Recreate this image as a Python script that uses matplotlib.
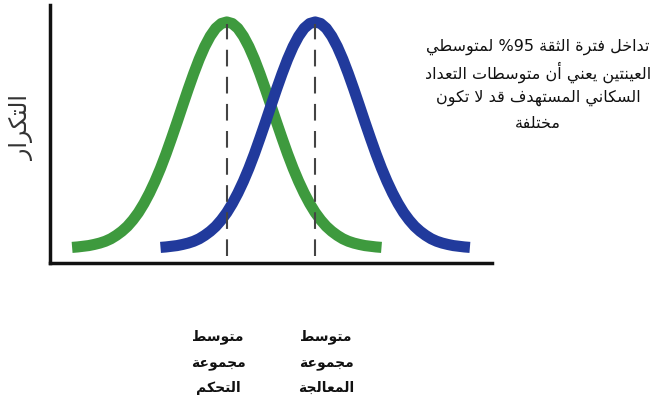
import matplotlib
matplotlib.use("Agg")
import matplotlib.pyplot as plt

# ---------------- data ----------------
# offsets (x units) around each group mean and the relative frequency
offsets = [-35, -33.75, -32.5, -31.25, -30, -28.75, -27.5, -26.25, -25, -23.75, -22.5, -21.25,
           -20, -18.75, -17.5, -16.25, -15, -13.75, -12.5, -11.25, -10, -8.75, -7.5, -6.25,
           -5, -3.75, -2.5, -1.25, 0, 1.25, 2.5, 3.75, 5, 6.25, 7.5, 8.75, 10, 11.25, 12.5,
           13.75, 15, 16.25, 17.5, 18.75, 20, 21.25, 22.5, 23.75, 25, 26.25, 27.5, 28.75, 30,
           31.25, 32.5, 33.75, 35]
green_y = [0.003, 0.005, 0.008, 0.011, 0.016, 0.022, 0.030, 0.041, 0.056, 0.074, 0.096, 0.124,
           0.157, 0.197, 0.243, 0.295, 0.353, 0.417, 0.486, 0.557, 0.630, 0.702, 0.771, 0.835,
           0.891, 0.937, 0.972, 0.993, 1.0, 0.993, 0.972, 0.937, 0.891, 0.835, 0.771, 0.702,
           0.630, 0.557, 0.486, 0.417, 0.353, 0.295, 0.243, 0.197, 0.157, 0.124, 0.096, 0.074,
           0.056, 0.041, 0.030, 0.022, 0.016, 0.011, 0.008, 0.005, 0.003]
blue_y = [0.003, 0.005, 0.008, 0.011, 0.016, 0.022, 0.030, 0.041, 0.056, 0.074, 0.096, 0.124,
          0.157, 0.197, 0.243, 0.295, 0.353, 0.417, 0.486, 0.557, 0.630, 0.702, 0.771, 0.835,
          0.891, 0.937, 0.972, 0.993, 1.0, 0.993, 0.972, 0.937, 0.891, 0.835, 0.771, 0.702,
          0.630, 0.557, 0.486, 0.417, 0.353, 0.295, 0.243, 0.197, 0.157, 0.124, 0.096, 0.074,
          0.056, 0.041, 0.030, 0.022, 0.016, 0.011, 0.008, 0.005, 0.003]
green_mean = 40
blue_mean = 60
mean_labels = ["متوسط\nمجموعة\nالتحكم", "متوسط\nمجموعة\nالمعالجة"]
ylabel_text = "التكرار"
note_lines = ["تداخل فترة الثقة 95% لمتوسطي",
              "العينتين يعني أن متوسطات التعداد",
              "السكاني المستهدف قد لا تكون",
              "مختلفة"]

# ------------- minimal Arabic shaping (presentation forms) -------------
FORMS = {
    'ا': (0xFE8D, 0xFE8E, None, None), 'أ': (0xFE83, 0xFE84, None, None),
    'إ': (0xFE87, 0xFE88, None, None), 'آ': (0xFE81, 0xFE82, None, None),
    'ب': (0xFE8F, 0xFE90, 0xFE91, 0xFE92), 'ة': (0xFE93, 0xFE94, None, None),
    'ت': (0xFE95, 0xFE96, 0xFE97, 0xFE98), 'ث': (0xFE99, 0xFE9A, 0xFE9B, 0xFE9C),
    'ج': (0xFE9D, 0xFE9E, 0xFE9F, 0xFEA0), 'ح': (0xFEA1, 0xFEA2, 0xFEA3, 0xFEA4),
    'خ': (0xFEA5, 0xFEA6, 0xFEA7, 0xFEA8), 'د': (0xFEA9, 0xFEAA, None, None),
    'ذ': (0xFEAB, 0xFEAC, None, None), 'ر': (0xFEAD, 0xFEAE, None, None),
    'ز': (0xFEAF, 0xFEB0, None, None), 'س': (0xFEB1, 0xFEB2, 0xFEB3, 0xFEB4),
    'ش': (0xFEB5, 0xFEB6, 0xFEB7, 0xFEB8), 'ص': (0xFEB9, 0xFEBA, 0xFEBB, 0xFEBC),
    'ض': (0xFEBD, 0xFEBE, 0xFEBF, 0xFEC0), 'ط': (0xFEC1, 0xFEC2, 0xFEC3, 0xFEC4),
    'ظ': (0xFEC5, 0xFEC6, 0xFEC7, 0xFEC8), 'ع': (0xFEC9, 0xFECA, 0xFECB, 0xFECC),
    'غ': (0xFECD, 0xFECE, 0xFECF, 0xFED0), 'ف': (0xFED1, 0xFED2, 0xFED3, 0xFED4),
    'ق': (0xFED5, 0xFED6, 0xFED7, 0xFED8), 'ك': (0xFED9, 0xFEDA, 0xFEDB, 0xFEDC),
    'ل': (0xFEDD, 0xFEDE, 0xFEDF, 0xFEE0), 'م': (0xFEE1, 0xFEE2, 0xFEE3, 0xFEE4),
    'ن': (0xFEE5, 0xFEE6, 0xFEE7, 0xFEE8), 'ه': (0xFEE9, 0xFEEA, 0xFEEB, 0xFEEC),
    'و': (0xFEED, 0xFEEE, None, None), 'ى': (0xFEEF, 0xFEF0, None, None),
    'ي': (0xFEF1, 0xFEF2, 0xFEF3, 0xFEF4),
}
LAMALEF = {'ا': (0xFEFB, 0xFEFC), 'أ': (0xFEF7, 0xFEF8),
           'إ': (0xFEF9, 0xFEFA), 'آ': (0xFEF5, 0xFEF6)}


def dual(c):
    return c in FORMS and FORMS[c][2] is not None


def shape_word(w):
    units = []
    i = 0
    while i < len(w):
        if w[i] == 'ل' and i + 1 < len(w) and w[i + 1] in LAMALEF:
            units.append(('LA', w[i + 1]))
            i += 2
        else:
            units.append(('C', w[i]))
            i += 1
    out = []
    for k, (kind, c) in enumerate(units):
        prev = units[k - 1] if k > 0 else None
        prev_joins = prev is not None and prev[0] == 'C' and dual(prev[1])
        if kind == 'LA':
            out.append(chr(LAMALEF[c][1] if prev_joins else LAMALEF[c][0]))
            continue
        if c not in FORMS:
            out.append(c)
            continue
        nxt = units[k + 1] if k + 1 < len(units) else None
        next_joins = dual(c) and nxt is not None and (nxt[0] == 'LA' or nxt[1] in FORMS)
        iso, fin, ini, med = FORMS[c]
        if prev_joins and next_joins:
            out.append(chr(med))
        elif prev_joins:
            out.append(chr(fin))
        elif next_joins:
            out.append(chr(ini))
        else:
            out.append(chr(iso))
    return ''.join(out)


def rtl(line):
    words = []
    for w in line.split(' '):
        if any(ch in FORMS for ch in w):
            words.append(shape_word(w)[::-1])
        elif w.endswith('%'):
            words.append('%' + w[:-1])
        else:
            words.append(w)
    return ' '.join(words[::-1])


# ---------------- figure ----------------
fig = plt.figure(figsize=(6.55, 4.08), dpi=100)
ax = fig.add_axes([50 / 655, 1 - 263 / 408, 442 / 655, 258 / 408])
ax.set_xlim(0, 100)
ax.set_ylim(-0.066, 1.075)

green_x = [green_mean + o for o in offsets]
blue_x = [blue_mean + o for o in offsets]
ax.plot(green_x, green_y, color="#3e9a3e", lw=8, solid_capstyle="butt",
        solid_joinstyle="round", zorder=2)
ax.plot(blue_x, blue_y, color="#213a9c", lw=8, solid_capstyle="butt",
        solid_joinstyle="round", zorder=3)
ax.vlines([green_mean, blue_mean], -0.035, 0.99, colors="#444444",
          linestyles=(0, (8, 5)), lw=1.5, zorder=4)

for s in ["top", "right"]:
    ax.spines[s].set_visible(False)
for s in ["left", "bottom"]:
    ax.spines[s].set_linewidth(2.5)
    ax.spines[s].set_color("#111111")
ax.set_xticks([])
ax.set_yticks([])

fam = ["DejaVu Sans"]
fig.text(22 / 655, 1 - 128 / 408, rtl(ylabel_text), rotation=90, ha="center", va="center",
         fontsize=17, family=fam, color="#333333")

note_y = [47, 72, 98, 123]
for ln, yy in zip(note_lines, note_y):
    fig.text(538 / 655, 1 - yy / 408, rtl(ln), ha="center", va="center",
             fontsize=11.5, family=fam, color="#111111")

label_px = [218, 326]
for lab, xp in zip(mean_labels, label_px):
    for j, part in enumerate(lab.split("\n")):
        fig.text(xp / 655, 1 - (337 + 25.5 * j) / 408, rtl(part), ha="center", va="center",
                 fontsize=10, fontweight="bold", family=fam, color="#111111")

fig.savefig("out.png", dpi=100)
